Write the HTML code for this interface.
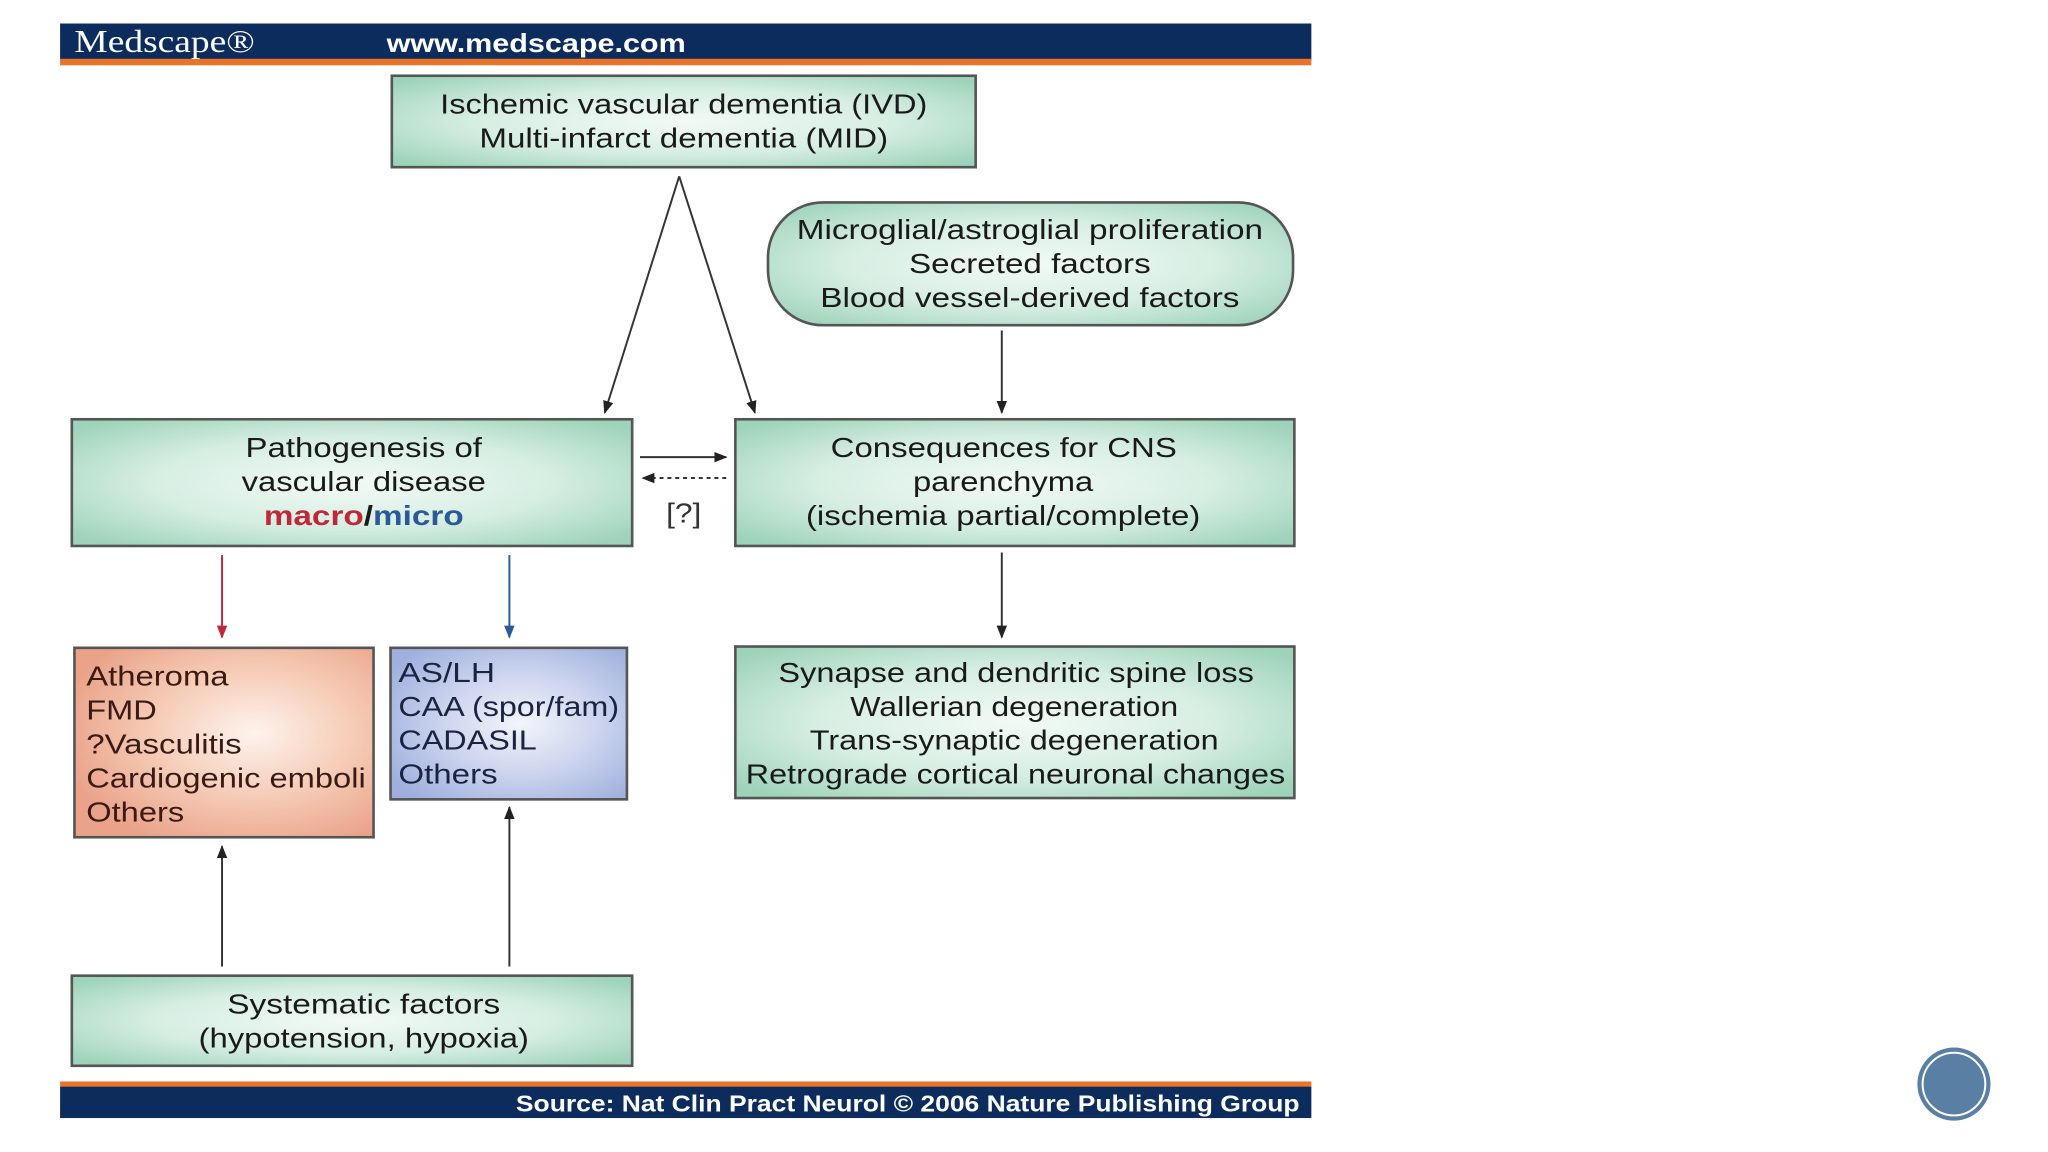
<!DOCTYPE html>
<html><head><meta charset="utf-8"><style>
html,body{margin:0;padding:0;background:#fff;}
svg{display:block;}
text{font-family:"Liberation Sans",sans-serif;fill:#1a1a1a;}
</style></head><body>
<svg width="2048" height="1152" viewBox="0 0 1568 882" preserveAspectRatio="none" xmlns="http://www.w3.org/2000/svg">
<defs>
<radialGradient id="g" cx="50%" cy="50%" r="65%">
<stop offset="0" stop-color="#f2faf6"/><stop offset="0.55" stop-color="#d6eee2"/><stop offset="1" stop-color="#9ed3bb"/>
</radialGradient>
<radialGradient id="r" cx="60%" cy="45%" r="65%">
<stop offset="0" stop-color="#fdf3ee"/><stop offset="0.5" stop-color="#f6cdb8"/><stop offset="1" stop-color="#eaa38a"/>
</radialGradient>
<radialGradient id="b" cx="55%" cy="50%" r="65%">
<stop offset="0" stop-color="#f3f5fb"/><stop offset="0.5" stop-color="#cdd5ee"/><stop offset="1" stop-color="#9fb0de"/>
</radialGradient>
<marker id="a" markerWidth="10" markerHeight="10" refX="9" refY="5" orient="auto" markerUnits="userSpaceOnUse"><path d="M0,1 L10,5 L0,9 Z" fill="#222"/></marker>
<marker id="ar" markerWidth="10" markerHeight="10" refX="9" refY="5" orient="auto" markerUnits="userSpaceOnUse"><path d="M0,1 L10,5 L0,9 Z" fill="#c0283a"/></marker>
<marker id="ab" markerWidth="10" markerHeight="10" refX="9" refY="5" orient="auto" markerUnits="userSpaceOnUse"><path d="M0,1 L10,5 L0,9 Z" fill="#2a5a9a"/></marker>
</defs>
<rect x="46" y="18" width="958" height="28" fill="#0c2c5e"/>
<rect x="46" y="45" width="958" height="5" fill="#e8742a"/>
<text x="57" y="40" font-size="24" style="fill:#fff;font-family:'Liberation Serif',serif" textLength="138" lengthAdjust="spacingAndGlyphs">Medscape®</text>
<text x="296" y="40" font-size="20" font-weight="bold" style="fill:#fff" textLength="229" lengthAdjust="spacingAndGlyphs">www.medscape.com</text>
<rect x="46" y="828" width="958" height="5" fill="#e8742a"/>
<rect x="46" y="832" width="958" height="24" fill="#0c2c5e"/>
<text x="395" y="851" font-size="18" font-weight="bold" style="fill:#fff" textLength="600" lengthAdjust="spacingAndGlyphs">Source: Nat Clin Pract Neurol © 2006 Nature Publishing Group</text>
<g stroke="#555" stroke-width="2">
<rect x="300" y="58" width="447" height="70" fill="url(#g)"/>
<rect x="588" y="155" width="402" height="94" rx="42" fill="url(#g)"/>
<rect x="55" y="321" width="429" height="97" fill="url(#g)"/>
<rect x="563" y="321" width="428" height="97" fill="url(#g)"/>
<rect x="57" y="496" width="229" height="145" fill="url(#r)"/>
<rect x="299" y="496" width="181" height="116" fill="url(#b)"/>
<rect x="563" y="495" width="428" height="116" fill="url(#g)"/>
<rect x="55" y="747" width="429" height="69" fill="url(#g)"/>
</g>
<g font-size="21" lengthAdjust="spacingAndGlyphs">
<text x="337" y="87" textLength="373" lengthAdjust="spacingAndGlyphs">Ischemic vascular dementia (IVD)</text>
<text x="367" y="113" textLength="313" lengthAdjust="spacingAndGlyphs">Multi-infarct dementia (MID)</text>
<text x="610" y="183" textLength="357" lengthAdjust="spacingAndGlyphs">Microglial/astroglial proliferation</text>
<text x="696" y="209" textLength="185" lengthAdjust="spacingAndGlyphs">Secreted factors</text>
<text x="628" y="235" textLength="321" lengthAdjust="spacingAndGlyphs">Blood vessel-derived factors</text>
<text x="188" y="350" textLength="181" lengthAdjust="spacingAndGlyphs">Pathogenesis of</text>
<text x="185" y="376" textLength="187" lengthAdjust="spacingAndGlyphs">vascular disease</text>
<text x="202" y="402" font-weight="bold" textLength="153" lengthAdjust="spacingAndGlyphs"><tspan style="fill:#c0283a">macro</tspan>/<tspan style="fill:#2a5a9a">micro</tspan></text>
<text x="636" y="350" textLength="265" lengthAdjust="spacingAndGlyphs">Consequences for CNS</text>
<text x="699" y="376" textLength="138" lengthAdjust="spacingAndGlyphs">parenchyma</text>
<text x="617" y="402" textLength="302" lengthAdjust="spacingAndGlyphs">(ischemia partial/complete)</text>
<text x="596" y="522" textLength="364" lengthAdjust="spacingAndGlyphs">Synapse and dendritic spine loss</text>
<text x="651" y="548" textLength="251" lengthAdjust="spacingAndGlyphs">Wallerian degeneration</text>
<text x="620" y="574" textLength="313" lengthAdjust="spacingAndGlyphs">Trans-synaptic degeneration</text>
<text x="571" y="600" textLength="413" lengthAdjust="spacingAndGlyphs">Retrograde cortical neuronal changes</text>
<text x="174" y="776" textLength="209" lengthAdjust="spacingAndGlyphs">Systematic factors</text>
<text x="152" y="802" textLength="253" lengthAdjust="spacingAndGlyphs">(hypotension, hypoxia)</text>
<text x="510" y="400" style="fill:#333" textLength="27" lengthAdjust="spacingAndGlyphs">[?]</text>
<text x="66" y="525" style="fill:#3a1a14" textLength="109" lengthAdjust="spacingAndGlyphs">Atheroma</text>
<text x="66" y="551" style="fill:#3a1a14" textLength="54" lengthAdjust="spacingAndGlyphs">FMD</text>
<text x="66" y="577" style="fill:#3a1a14" textLength="119" lengthAdjust="spacingAndGlyphs">?Vasculitis</text>
<text x="66" y="603" style="fill:#3a1a14" textLength="214" lengthAdjust="spacingAndGlyphs">Cardiogenic emboli</text>
<text x="66" y="629" style="fill:#3a1a14" textLength="75" lengthAdjust="spacingAndGlyphs">Others</text>
<text x="305" y="522" style="fill:#1a2440" textLength="74" lengthAdjust="spacingAndGlyphs">AS/LH</text>
<text x="305" y="548" style="fill:#1a2440" textLength="169" lengthAdjust="spacingAndGlyphs">CAA (spor/fam)</text>
<text x="305" y="574" style="fill:#1a2440" textLength="106" lengthAdjust="spacingAndGlyphs">CADASIL</text>
<text x="305" y="600" style="fill:#1a2440" textLength="76" lengthAdjust="spacingAndGlyphs">Others</text>
</g>
<g stroke="#333" stroke-width="1.5" fill="none">
<line x1="520" y1="135" x2="463" y2="316" marker-end="url(#a)"/>
<line x1="520" y1="135" x2="578" y2="316" marker-end="url(#a)"/>
<line x1="767" y1="253" x2="767" y2="316" marker-end="url(#a)"/>
<line x1="490" y1="350" x2="556" y2="350" marker-end="url(#a)"/>
<line x1="556" y1="366" x2="492" y2="366" stroke-dasharray="3,3" marker-end="url(#a)"/>
<line x1="767" y1="423" x2="767" y2="488" marker-end="url(#a)"/>
<line x1="170" y1="740" x2="170" y2="648" marker-end="url(#a)"/>
<line x1="390" y1="740" x2="390" y2="618" marker-end="url(#a)"/>
<line x1="170" y1="425" x2="170" y2="488" stroke="#c0283a" marker-end="url(#ar)"/>
<line x1="390" y1="425" x2="390" y2="488" stroke="#2a5a9a" marker-end="url(#ab)"/>
</g>
<circle cx="1496" cy="830" r="28" fill="#5a7fa5"/>
<circle cx="1496" cy="830" r="24" fill="none" stroke="#fff" stroke-width="1.5"/>
</svg>
</body></html>
